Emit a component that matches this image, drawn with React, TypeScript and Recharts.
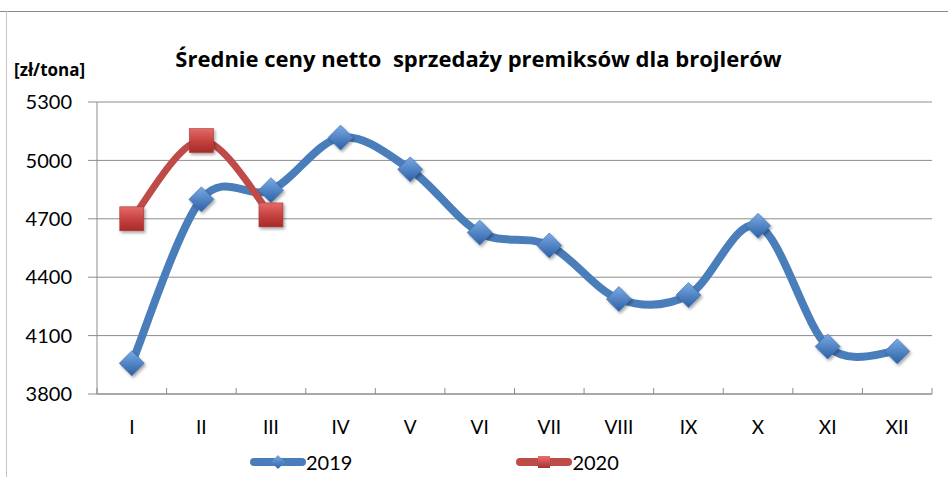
import React from 'react';
import { LineChart, Line, XAxis, YAxis, CartesianGrid, Legend } from 'recharts';

const MONTHS = ['I', 'II', 'III', 'IV', 'V', 'VI', 'VII', 'VIII', 'IX', 'X', 'XI', 'XII'];
const PRICES_2019 = [3958, 4800, 4847, 5117, 4954, 4629, 4563, 4288, 4308, 4664, 4044, 4019];
const PRICES_2020 = [4700, 5102, 4720];
const Y_TICKS = [3800, 4100, 4400, 4700, 5000, 5300];

const BLUE = '#4a7ebb';
const RED = '#be4b48';
const GRID = '#8c8c8c';
const FONT = 'Lato, "Open Sans", sans-serif';
const TITLE_FONT = '"Open Sans", Lato, sans-serif';

const data = MONTHS.map((m, i) => ({
  idx: i + 1,
  month: m,
  y2019: PRICES_2019[i],
  y2020: i < PRICES_2020.length ? PRICES_2020[i] : null,
}));

// centres get labels, half steps get the small inward tick marks
const X_TICKS: number[] = [];
for (let i = 0; i <= MONTHS.length * 2; i++) X_TICKS.push(0.5 + i * 0.5);

// Excel-like smoothing (Catmull-Rom through the points)
const excelSmooth = (context: any) => {
  let pts: number[][] = [];
  return {
    areaStart() {},
    areaEnd() {},
    lineStart() {
      pts = [];
    },
    point(x: number, y: number) {
      pts.push([+x, +y]);
    },
    lineEnd() {
      const n = pts.length;
      if (!n) return;
      context.moveTo(pts[0][0], pts[0][1]);
      const t = 1 / 6;
      for (let i = 0; i < n - 1; i++) {
        const p0 = pts[Math.max(i - 1, 0)];
        const p1 = pts[i];
        const p2 = pts[i + 1];
        const p3 = pts[Math.min(i + 2, n - 1)];
        context.bezierCurveTo(
          p1[0] + (p2[0] - p0[0]) * t,
          p1[1] + (p2[1] - p0[1]) * t,
          p2[0] - (p3[0] - p1[0]) * t,
          p2[1] - (p3[1] - p1[1]) * t,
          p2[0],
          p2[1]
        );
      }
    },
  };
};

const Diamond = (props: any) => {
  const { cx, cy, value, index } = props;
  if (value == null || cx == null || cy == null) return <g key={`d-${index}`} />;
  const r = 12.5;
  return (
    <path
      key={`d-${index}`}
      d={`M${cx},${cy - r}L${cx + r},${cy}L${cx},${cy + r}L${cx - r},${cy}Z`}
      fill="url(#blueGrad)"
      stroke="#3a6aa8"
      strokeWidth={0.6}
      filter="url(#shadow)"
    />
  );
};

const Square = (props: any) => {
  const { cx, cy, value, index } = props;
  if (value == null || cx == null || cy == null) return <g key={`s-${index}`} />;
  const s = 12;
  return (
    <rect
      key={`s-${index}`}
      x={cx - s}
      y={cy - s}
      width={s * 2}
      height={s * 2}
      fill="url(#redGrad)"
      stroke="#a83a37"
      strokeWidth={0.6}
      filter="url(#shadow)"
    />
  );
};

const MonthTick = (props: any) => {
  const { x, y, payload } = props;
  const v = payload.value;
  if (Number.isInteger(v)) {
    return (
      <text x={x} y={y + 33} dy="0.35em" textAnchor="middle" fill="#000" fontSize={19} fontFamily={FONT}>
        {MONTHS[v - 1]}
      </text>
    );
  }
  return <line x1={x} x2={x} y1={y - 6} y2={y} stroke={GRID} strokeWidth={1} />;
};

const LegendContent = (props: any) => {
  const items = props.payload || [];
  return (
    <div style={{ display: 'flex', fontFamily: FONT, fontSize: 20 }}>
      {items.map((it: any) => {
        const is2019 = it.dataKey === 'y2019';
        return (
          <div key={it.value} style={{ display: 'flex', alignItems: 'center', marginRight: is2019 ? 164 : 0 }}>
            <svg width={56} height={20}>
              <line x1={4} x2={52} y1={10} y2={10} stroke={is2019 ? BLUE : RED} strokeWidth={8} strokeLinecap="round" />
              {is2019 ? (
                <path d="M28,3L35,10L28,17L21,10Z" fill="url(#blueGradL)" />
              ) : (
                <rect x={22} y={4} width={12} height={12} fill="url(#redGradL)" />
              )}
              <defs>
                <linearGradient id="blueGradL" x1="0" y1="0" x2="0" y2="1">
                  <stop offset="0%" stopColor="#7aaae6" />
                  <stop offset="100%" stopColor="#2f64a8" />
                </linearGradient>
                <linearGradient id="redGradL" x1="0" y1="0" x2="0" y2="1">
                  <stop offset="0%" stopColor="#e87070" />
                  <stop offset="100%" stopColor="#a83030" />
                </linearGradient>
              </defs>
            </svg>
            <span style={{ color: '#000', lineHeight: '20px' }}>{it.value}</span>
          </div>
        );
      })}
    </div>
  );
};

export default function App() {
  return (
    <div style={{ position: 'absolute', left: 0, top: 0, width: 948, height: 477, background: '#fff', fontFamily: FONT }}>
      <div style={{ position: 'absolute', left: 0, top: 11, width: 948, borderTop: '1px solid #8a8a8a' }} />
      <div style={{ position: 'absolute', left: 6, top: 11, height: 466, borderLeft: '1px solid #c4c4c4' }} />
      <div
        style={{
          position: 'absolute',
          left: 0,
          width: 957,
          top: 43,
          textAlign: 'center',
          fontSize: 22,
          fontWeight: 700,
          fontFamily: TITLE_FONT,
          lineHeight: '30px',
          whiteSpace: 'pre',
          color: '#000',
        }}
      >
        {'Średnie ceny netto  sprzedaży premiksów dla brojlerów'}
      </div>
      <div
        style={{
          position: 'absolute',
          left: 14,
          top: 58,
          fontSize: 17,
          fontWeight: 700,
          fontFamily: TITLE_FONT,
          lineHeight: '24px',
          color: '#000',
        }}
      >
        [zł/tona]
      </div>
      <LineChart width={948} height={477} data={data} margin={{ top: 102, right: 16, bottom: 43, left: 37 }}>
        <defs>
          <linearGradient id="blueGrad" x1="0" y1="0" x2="0" y2="1">
            <stop offset="0%" stopColor="#7aaae6" />
            <stop offset="100%" stopColor="#2c60a4" />
          </linearGradient>
          <linearGradient id="redGrad" x1="0" y1="0" x2="0" y2="1">
            <stop offset="0%" stopColor="#e46a68" />
            <stop offset="55%" stopColor="#c4403d" />
            <stop offset="100%" stopColor="#a52b29" />
          </linearGradient>
          <filter id="shadow" x="-30%" y="-30%" width="170%" height="170%">
            <feDropShadow dx="1.5" dy="2" stdDeviation="1.5" floodColor="#000" floodOpacity="0.35" />
          </filter>
        </defs>
        <CartesianGrid horizontal vertical={false} stroke={GRID} strokeWidth={1} />
        <XAxis
          dataKey="idx"
          type="number"
          domain={[0.5, 12.5]}
          ticks={X_TICKS}
          interval={0}
          tickLine={false}
          tickSize={0}
          tickMargin={0}
          tick={<MonthTick />}
          axisLine={{ stroke: GRID }}
          height={40}
        />
        <YAxis
          domain={[3800, 5300]}
          ticks={Y_TICKS}
          interval={0}
          width={60}
          tickSize={9}
          tickMargin={16}
          tickLine={{ stroke: GRID }}
          axisLine={{ stroke: GRID }}
          tick={{ fill: '#000', fontSize: 20, fontFamily: FONT }}
        />
        <Legend
          layout="horizontal"
          verticalAlign="middle"
          align="center"
          content={<LegendContent />}
          wrapperStyle={{ position: 'absolute', left: 250, top: 452, width: 420, height: 22 }}
        />
        <Line
          dataKey="y2019"
          name="2019"
          type={excelSmooth as any}
          stroke={BLUE}
          strokeWidth={8}
          dot={<Diamond />}
          activeDot={false}
          isAnimationActive={false}
        />
        <Line
          dataKey="y2020"
          name="2020"
          type={excelSmooth as any}
          stroke={RED}
          strokeWidth={7}
          dot={<Square />}
          activeDot={false}
          connectNulls={false}
          isAnimationActive={false}
        />
      </LineChart>
    </div>
  );
}
